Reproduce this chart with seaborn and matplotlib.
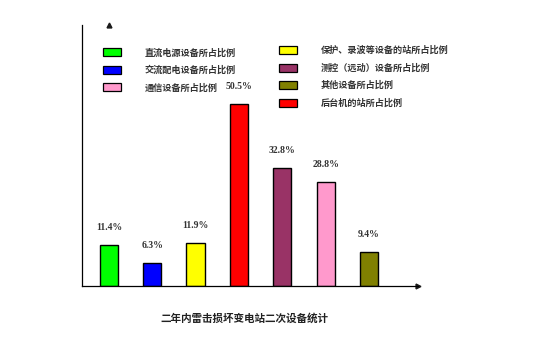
import numpy as np
import pandas as pd
import matplotlib
matplotlib.use("Agg")
import matplotlib.pyplot as plt
import seaborn as sns
from matplotlib.patches import Patch

# bar order as drawn
categories = ["直流电源设备所占比例", "交流配电设备所占比例", "保护、录波等设备的站所占比例",
              "后台机的站所占比例", "测控（远动）设备所占比例", "通信设备所占比例", "其他设备所占比例"]
values = [11.4, 6.3, 11.9, 50.5, 32.8, 28.8, 9.4]
colors = ["#00ff00", "#0000ff", "#ffff00", "#ff0000", "#993366", "#ff99cc", "#808000"]
value_labels = ["11.4%", "6.3%", "11.9%", "50.5%", "32.8%", "28.8%", "9.4%"]

# legend columns
legend_left = ["直流电源设备所占比例", "交流配电设备所占比例", "通信设备所占比例"]
legend_right = ["保护、录波等设备的站所占比例", "测控（远动）设备所占比例",
                "其他设备所占比例", "后台机的站所占比例"]
title = "二年内雷击损坏变电站二次设备统计"

sns.set_theme(style="white")
plt.rcParams["font.family"] = ["Noto Sans CJK SC", "DejaVu Sans"]

df = pd.DataFrame({"cat": categories, "val": values})
palette = dict(zip(categories, colors))

fig = plt.figure(figsize=(5.34, 3.44), dpi=100)
ax = fig.add_axes([82 / 534, 1 - 286 / 344, 336 / 534, 261 / 344])

sns.barplot(data=df, x="cat", y="val", hue="cat", palette=palette, width=0.42,
            edgecolor="black", linewidth=1.0, saturation=1, legend=False, ax=ax)

ax.set_xlim(-0.62, 7.13)
ax.set_ylim(0, 72.5)
ax.set_xlabel("")
ax.set_ylabel("")
ax.set_xticks([])
ax.set_yticks([])
for s in ["top", "right"]:
    ax.spines[s].set_visible(False)
for s in ["left", "bottom"]:
    ax.spines[s].set_color("black")
    ax.spines[s].set_linewidth(0.9)
# axis arrows
ax.plot(1, 0, ">k", ms=3.5, transform=ax.get_yaxis_transform(), clip_on=False)
ax.plot(0, 1, "^k", ms=3.5, transform=ax.get_xaxis_transform(), clip_on=False)

for i, (v, lab) in enumerate(zip(values, value_labels)):
    ax.annotate(lab, (i, v), xytext=(0, 12.5), textcoords="offset points",
                ha="center", va="center", fontsize=7, fontweight="bold",
                family="Liberation Serif", color="#333333")

def make_legend(labels, anchor):
    handles = [Patch(facecolor=palette[l], edgecolor="black", linewidth=0.9) for l in labels]
    leg = fig.legend(handles, labels, loc="upper left", bbox_to_anchor=anchor,
                     frameon=False, borderpad=0, borderaxespad=0,
                     handlelength=1.95, handleheight=0.95, handletextpad=2.6,
                     labelspacing=0.9, prop={"size": 6.6, "weight": "bold"})
    for t in leg.get_texts():
        t.set_color("#333333")
    return leg

make_legend(legend_left, (103 / 534, 1 - 48 / 344))
make_legend(legend_right, (279 / 534, 1 - 46 / 344))

fig.text(244 / 534, 1 - 318 / 344, title, ha="center", va="center",
         fontsize=7.6, fontweight="bold", color="#222222")

fig.savefig("out.png", dpi=100, facecolor="white")
